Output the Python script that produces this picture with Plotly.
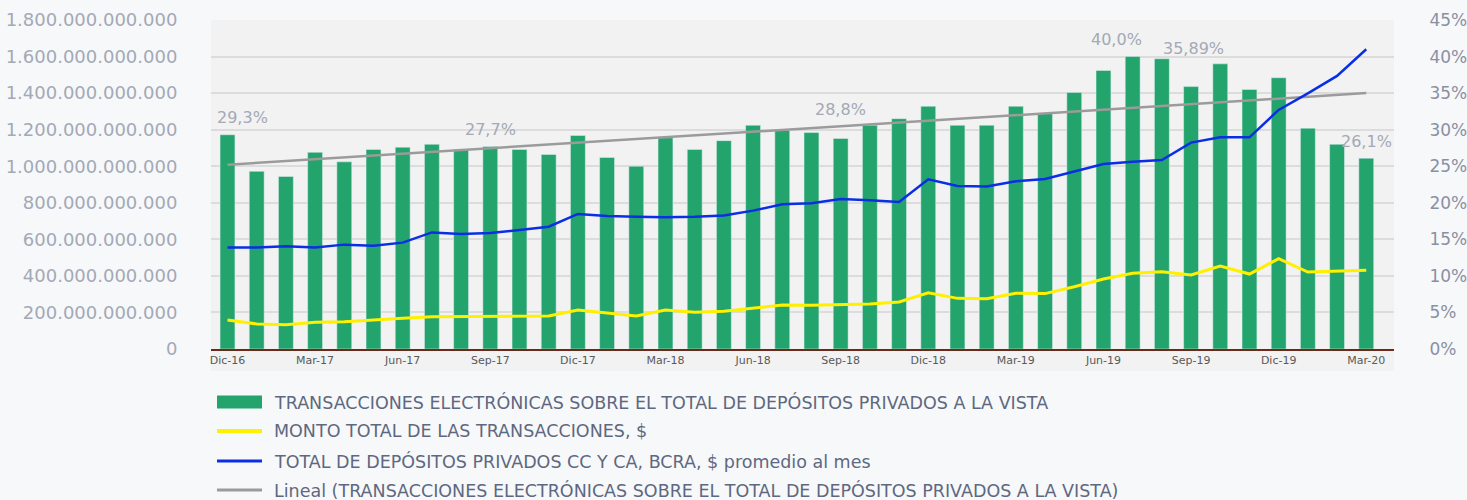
import plotly.graph_objects as go

# months Dic-16 .. Mar-20
months = [
    "Dic-16",
    "Ene-17", "Feb-17", "Mar-17", "Abr-17", "May-17", "Jun-17",
    "Jul-17", "Ago-17", "Sep-17", "Oct-17", "Nov-17", "Dic-17",
    "Ene-18", "Feb-18", "Mar-18", "Abr-18", "May-18", "Jun-18",
    "Jul-18", "Ago-18", "Sep-18", "Oct-18", "Nov-18", "Dic-18",
    "Ene-19", "Feb-19", "Mar-19", "Abr-19", "May-19", "Jun-19",
    "Jul-19", "Ago-19", "Sep-19", "Oct-19", "Nov-19", "Dic-19",
    "Ene-20", "Feb-20", "Mar-20",
]
tick_labels = months[::3]

# % transacciones electronicas / depositos a la vista
ratio_pct = [
    29.3,
    24.3, 23.6, 26.9, 25.6, 27.3, 27.6,
    28.0, 27.3, 27.7, 27.3, 26.6, 29.2,
    26.2, 25.0, 28.9, 27.3, 28.5, 30.6,
    29.9, 29.6, 28.8, 30.6, 31.5, 33.2,
    30.6, 30.6, 33.2, 32.2, 35.1, 38.1,
    40.0, 39.7, 35.89, 39.0, 35.5, 37.1,
    30.2, 28.0, 26.1,
]

# monto total de las transacciones, $ (miles de millones)
monto_bn = [
    159,
    137, 133, 146, 149, 160, 168,
    177, 177, 177, 179, 181, 213,
    199, 181, 213, 201, 206, 224,
    241, 239, 241, 246, 257, 308,
    277, 275, 305, 303, 341, 383,
    414, 423, 405, 454, 410, 494,
    421, 425, 431,
]

# total depositos privados cc y ca, $ promedio al mes (miles de millones)
depositos_bn = [
    556,
    556, 562, 556, 571, 565, 582,
    638, 629, 635, 651, 669, 739,
    728, 724, 721, 724, 731, 757,
    792, 797, 821, 814, 804, 928,
    892, 889, 918, 930, 970, 1012,
    1025, 1034, 1129, 1158, 1158, 1308,
    1399, 1494, 1640,
]

# linear trend of the ratio, endpoints
trend_pct = [25.2, 35.0]

# labelled bars: month, text, xshift, yshift
bar_labels = [
    ("Dic-16", "29,3%", 15, 17),
    ("Sep-17", "27,7%", 0, 17),
    ("Sep-18", "28,8%", 0, 29),
    ("Jul-19", "40,0%", -16, 17),
    ("Sep-19", "35,89%", 2, 38),
    ("Mar-20", "26,1%", 0, 17),
]

series_names = [
    "TRANSACCIONES ELECTRÓNICAS SOBRE EL TOTAL DE DEPÓSITOS PRIVADOS A LA VISTA",
    "MONTO TOTAL DE LAS TRANSACCIONES, $",
    "TOTAL DE DEPÓSITOS PRIVADOS CC Y CA, BCRA, $ promedio al mes",
    "Lineal (TRANSACCIONES ELECTRÓNICAS SOBRE EL TOTAL DE DEPÓSITOS PRIVADOS A LA VISTA)",
]

GREEN = "#23A46C"
YELLOW = "#FFF000"
BLUE = "#0A2EE6"
GREY = "#9B9B9B"
LABEL = "#A3A9B6"
LEGEND_TXT = "#5E6880"
PAPER = "#F7F8FA"

# plot area in pixels (for the hand-made legend below the chart)
L, R, T, B = 211, 73, 20, 151
PW, PH = 1467 - L - R, 500 - T - B


def px_x(p):
    return (p - L) / PW


def px_y(p):
    return (500 - B - p) / PH


monto = [v * 1e9 for v in monto_bn]
depositos = [v * 1e9 for v in depositos_bn]

fig = go.Figure()

fig.add_trace(go.Bar(
    x=months, y=ratio_pct, marker_color=GREEN, width=0.51,
    name=series_names[0], yaxis="y",
))
fig.add_trace(go.Scatter(
    x=[months[0], months[-1]], y=trend_pct, mode="lines",
    line=dict(color=GREY, width=2.5), name=series_names[3], yaxis="y",
))
fig.add_trace(go.Scatter(
    x=months, y=monto, mode="lines", line=dict(color=YELLOW, width=3),
    name=series_names[1], yaxis="y2",
))
fig.add_trace(go.Scatter(
    x=months, y=depositos, mode="lines", line=dict(color=BLUE, width=2.5),
    name=series_names[2], yaxis="y2",
))

for month, text, dx, dy in bar_labels:
    fig.add_annotation(
        x=month, y=ratio_pct[months.index(month)], xref="x", yref="y",
        text=text, showarrow=False, xshift=dx, yshift=dy,
        yanchor="middle", font=dict(size=16, color=LABEL),
    )

# plot area background also behind the month labels
fig.add_shape(
    type="rect", xref="paper", yref="paper", x0=0, x1=1, y0=px_y(371), y1=0,
    fillcolor="#F1F2F1", line_width=0, layer="below",
)

# legend drawn by hand (rectangle symbol for the bars, lines for the rest)
legend_rows = [402, 431, 461, 490]
legend_colors = [GREEN, YELLOW, BLUE, GREY]
legend_widths = [13, 4, 3, 3]
for name, yrow, color, w in zip(series_names, legend_rows, legend_colors, legend_widths):
    fig.add_shape(
        type="line", xref="paper", yref="paper",
        x0=px_x(217), x1=px_x(262), y0=px_y(yrow), y1=px_y(yrow),
        line=dict(color=color, width=w),
    )
    fig.add_annotation(
        xref="paper", yref="paper", x=px_x(272), y=px_y(yrow),
        xanchor="left", yanchor="middle", text=name, showarrow=False,
        font=dict(size=17.5, color=LEGEND_TXT, family="DejaVu Sans"),
    )

fig.update_layout(
    width=1467,
    height=500,
    margin=dict(l=L, r=R, t=T, b=B, autoexpand=False),
    paper_bgcolor=PAPER,
    plot_bgcolor="#F1F2F1",
    separators=",.",
    font=dict(family="DejaVu Sans", color=LABEL),
    showlegend=False,
    xaxis=dict(
        type="category",
        range=[-0.565, 39.95],
        tickmode="array",
        tickvals=tick_labels,
        ticktext=tick_labels,
        tickangle=0,
        tickfont=dict(size=11, color="#595959", family="DejaVu Sans"),
        showline=True,
        linecolor="#6B2A1A",
        linewidth=2,
        showgrid=False,
        ticks="",
        automargin=False,
    ),
    yaxis=dict(
        side="right",
        range=[0, 45],
        dtick=5,
        ticksuffix="%",
        tickfont=dict(size=17, color="#8A90A2"),
        showgrid=True,
        gridcolor="#DCDCDC",
        gridwidth=1.5,
        zeroline=False,
        ticks="outside",
        ticklen=31,
        tickcolor="rgba(0,0,0,0)",
        automargin=False,
    ),
    yaxis2=dict(
        overlaying="y",
        side="left",
        range=[0, 1.8e12],
        dtick=2e11,
        tickformat=",.0f",
        tickfont=dict(size=18, color=LABEL),
        showgrid=False,
        zeroline=False,
        ticks="outside",
        ticklen=29,
        tickcolor="rgba(0,0,0,0)",
        automargin=False,
    ),
)

fig.write_html(
    "out.html",
    config={"displayModeBar": False},
    post_script="document.body.style.margin='0';"
    "document.body.style.background='" + PAPER + "';",
)
